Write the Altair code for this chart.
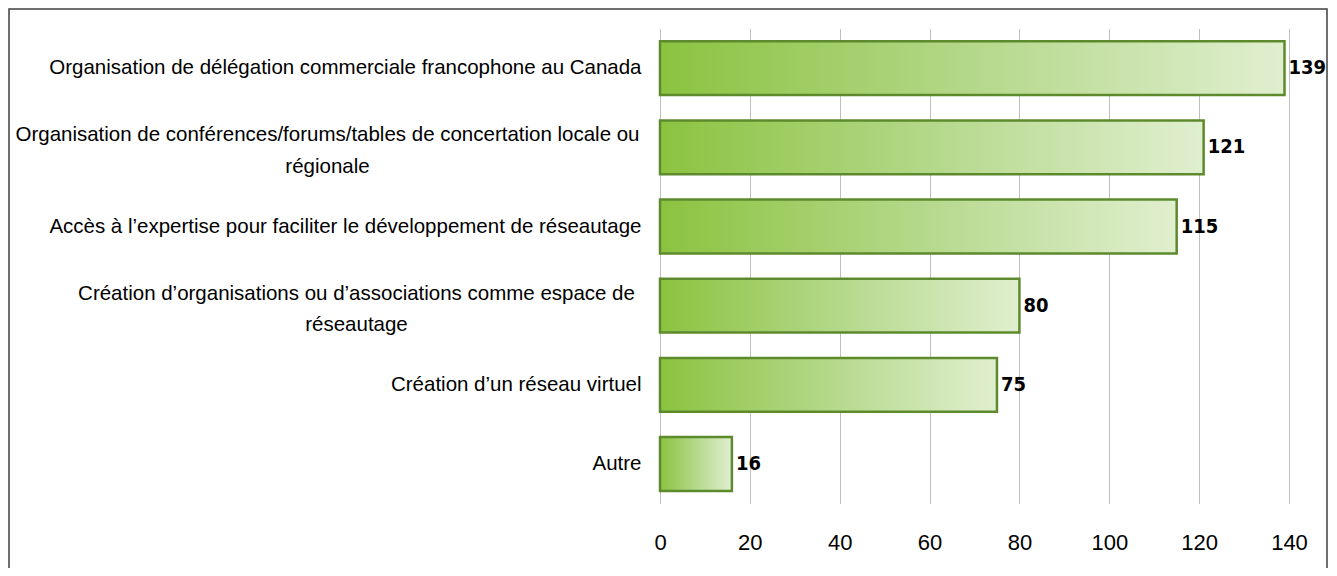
import altair as alt
import pandas as pd

categories = [
    "Organisation de délégation commerciale francophone au Canada",
    "Organisation de conférences/forums/tables de concertation locale ou\nrégionale",
    "Accès à l’expertise pour faciliter le développement de réseautage",
    "Création d’organisations ou d’associations comme espace de\nréseautage",
    "Création d’un réseau virtuel",
    "Autre",
]
values = [139, 121, 115, 80, 75, 16]
tick_values = [0, 20, 40, 60, 80, 100, 120, 140]

df = pd.DataFrame({"cat": categories, "val": values})

FONT = "Liberation Sans, Arial, sans-serif"
FONT_V = "DejaVu Sans Condensed, Liberation Sans"

y_axis = alt.Axis(
    title=None,
    labelExpr="split(datum.label, '\\n')",
    labelFont=FONT,
    labelFontSize=20.5,
    labelColor="#000000",
    labelLineHeight=31.5,
    labelLimit=2000,
    ticks=False,
    domain=False,
    labelAlign={
        "condition": {"test": "indexof(datum.value, '\\n') >= 0", "value": "center"},
        "value": "right",
    },
    labelOffset={
        "condition": {"test": "indexof(datum.value, '\\n') >= 0", "value": -12},
        "value": 0,
    },
    labelPadding={
        "condition": [
            {"test": "indexof(datum.value, 'Organisation de conf') == 0", "value": 333},
            {"test": "indexof(datum.value, 'Création d’organisations') == 0", "value": 304},
        ],
        "value": 19,
    },
)

x_axis = alt.Axis(
    title=None,
    values=tick_values,
    grid=True,
    gridColor="#BFBFBF",
    gridWidth=1,
    domain=False,
    ticks=False,
    labelFlush=False,
    labelPadding=29,
    labelFont=FONT,
    labelFontSize=22,
    labelColor="#000000",
)

base = alt.Chart(df).encode(
    y=alt.Y("cat:N", sort=categories, axis=y_axis,
            scale=alt.Scale(paddingInner=0.32, paddingOuter=0.16)),
    x=alt.X("val:Q", axis=x_axis, scale=alt.Scale(domain=[0, 140], nice=False)),
)

grad = alt.Gradient(
    gradient="linear",
    stops=[
        alt.GradientStop(color="#8BC340", offset=0),
        alt.GradientStop(color="#B4D88A", offset=0.5),
        alt.GradientStop(color="#E0EFCF", offset=1),
    ],
    x1=0, x2=1, y1=0, y2=0,
)

bars = base.mark_bar(color=grad, stroke="#5E8A2E", strokeWidth=2.5)
labels = base.mark_text(
    align="left", baseline="middle", dx=4, font=FONT_V, fontSize=20,
    fontWeight="bold", color="#000000",
).encode(text="val:Q")

frame = alt.Chart(pd.DataFrame({"k": [0]})).mark_rect(
    fill="transparent", stroke="#404040", strokeWidth=1.5
).encode(
    x=alt.value(-651), x2=alt.value(667), y=alt.value(-19.6), y2=alt.value(700)
)

chart = (
    alt.layer(frame, bars, labels)
    .properties(
        width=629,
        height=475,
        padding={"left": 652, "top": 20.6, "right": 40, "bottom": 64},
        autosize=alt.AutoSizeParams(type="none"),
        background="white",
    )
    .configure_view(stroke=None)
)

chart.save("out.html", embed_options={"renderer": "svg", "actions": False})
